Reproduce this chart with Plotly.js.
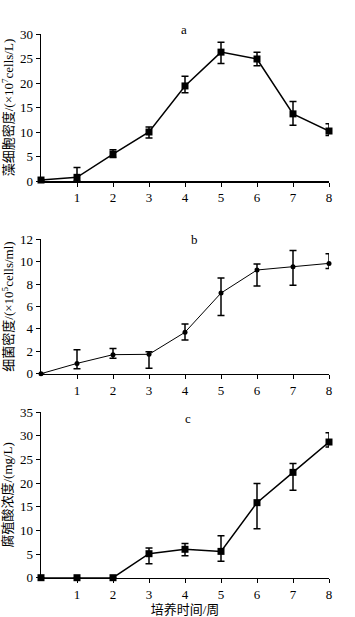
<!DOCTYPE html>
<html>
<head>
<meta charset="utf-8">
<script src="https://cdn.plot.ly/plotly-3.0.1.min.js"></script>
<style>html,body{margin:0;padding:0;background:#fff;}#chart{width:355px;height:617px;}</style>
</head>
<body>
<div id="chart"></div>
<script>
// Weeks of culture
const weeks = [0, 1, 2, 3, 4, 5, 6, 7, 8];
const xTicks = [1, 2, 3, 4, 5, 6, 7, 8];

// a: algal cell density (×10^7 cells/L)
const algae = [0.2, 0.75, 5.5, 10.0, 19.4, 26.3, 24.9, 13.7, 10.2];
const algaeErrPlus = [0.1, 2.0, 0.9, 1.0, 2.0, 2.0, 1.4, 2.5, 1.5];
const algaeErrMinus = [0.1, 0.75, 0.7, 1.2, 1.4, 2.3, 1.4, 2.3, 0.9];

// b: bacterial density (×10^5 cells/ml)
const bacteria = [0, 0.92, 1.7, 1.73, 3.7, 7.2, 9.26, 9.55, 9.85];
const bacteriaErrPlus = [0, 1.22, 0.55, 0.23, 0.73, 1.34, 0.53, 1.45, 0.85];
const bacteriaErrMinus = [0, 0.47, 0.32, 1.25, 0.7, 2.0, 1.43, 1.66, 0.45];

// c: humic acid concentration (mg/L)
const humic = [0, 0, 0, 5.07, 6.0, 5.56, 15.85, 22.25, 28.66];
const humicErrPlus = [0, 0, 0, 1.2, 1.2, 3.3, 4.05, 1.85, 1.95];
const humicErrMinus = [0, 0, 0, 2.1, 1.35, 2.1, 5.5, 3.8, 1.05];

const yTitles = ['藻细胞密度/(×10<sup>7</sup>cells/L)', '细菌密度/(×10<sup>5</sup>cells/ml)', '腐殖酸浓度/(mg/L)'];
const panelLabels = ['a', 'b', 'c'];
const xTitle = '培养时间/周';

const serif = 'Liberation Serif, Times New Roman, serif';
const cjk = 'Liberation Serif, Noto Sans CJK SC, serif';

function trace(y, ep, em, xa, ya, sym, msize, lw) {
  return {
    x: weeks, y: y, xaxis: xa, yaxis: ya, type: 'scatter', mode: 'lines+markers',
    line: {color: '#000', width: lw},
    marker: {symbol: sym, size: msize, color: '#000'},
    error_y: {type: 'data', symmetric: false, array: ep, arrayminus: em, color: '#000', thickness: 1.5, width: 3.5},
    cliponaxis: false, showlegend: false
  };
}

const data = [
  trace(algae, algaeErrPlus, algaeErrMinus, 'x', 'y', 'square', 7, 1.5),
  trace(bacteria, bacteriaErrPlus, bacteriaErrMinus, 'x2', 'y2', 'circle', 5, 1),
  trace(humic, humicErrPlus, humicErrMinus, 'x3', 'y3', 'square', 7, 1.5)
];

function xaxis(anchor, title) {
  const ax = {
    anchor: anchor, domain: [41/355, 329/355], range: [0, 8],
    tickvals: xTicks, ticktext: xTicks.map(String), ticks: 'outside', ticklen: 4, tickwidth: 1, tickcolor: '#000',
    showline: true, linecolor: '#000', linewidth: 1.5, showgrid: false, zeroline: false,
    tickfont: {family: serif, size: 13, color: '#000'}
  };
  if (title) ax.title = {text: title, font: {family: cjk, size: 13, color: '#000'}, standoff: 2};
  return ax;
}
function yaxis(anchor, dom, range, dtick, title) {
  return {
    anchor: anchor, domain: dom, range: range, dtick: dtick,
    ticks: 'outside', ticklen: 4, tickwidth: 1, tickcolor: '#000',
    showline: true, linecolor: '#000', linewidth: 1.5, showgrid: false, zeroline: false,
    tickfont: {family: serif, size: 13, color: '#000'},
    title: {text: title, font: {family: cjk, size: 13, color: '#000'}, standoff: 4}
  };
}

const H = 617;
const layout = {
  width: 355, height: 617, margin: {l: 0, r: 0, t: 0, b: 0},
  paper_bgcolor: '#fff', plot_bgcolor: '#fff',
  xaxis: xaxis('y'),
  yaxis: yaxis('x', [1 - 181/H, 1 - 34/H], [0, 30], 5, yTitles[0]),
  xaxis2: xaxis('y2'),
  yaxis2: yaxis('x2', [1 - 373.7/H, 1 - 239.3/H], [0, 12], 2, yTitles[1]),
  xaxis3: xaxis('y3', xTitle),
  yaxis3: yaxis('x3', [1 - 577.7/H, 1 - 412/H], [0, 35], 5, yTitles[2]),
  annotations: [
    {text: panelLabels[0], x: 184/355, y: 1 - 20/H, xref: 'paper', yref: 'paper', showarrow: false, font: {family: serif, size: 13, color: '#000'}},
    {text: panelLabels[1], x: 194/355, y: 1 - 240/H, xref: 'paper', yref: 'paper', showarrow: false, font: {family: serif, size: 13, color: '#000'}},
    {text: panelLabels[2], x: 188/355, y: 1 - 428/H, xref: 'paper', yref: 'paper', showarrow: false, font: {family: serif, size: 13, color: '#000'}}
  ]
};

Plotly.newPlot('chart', data, layout, {displayModeBar: false, staticPlot: true});
</script>
</body>
</html>
